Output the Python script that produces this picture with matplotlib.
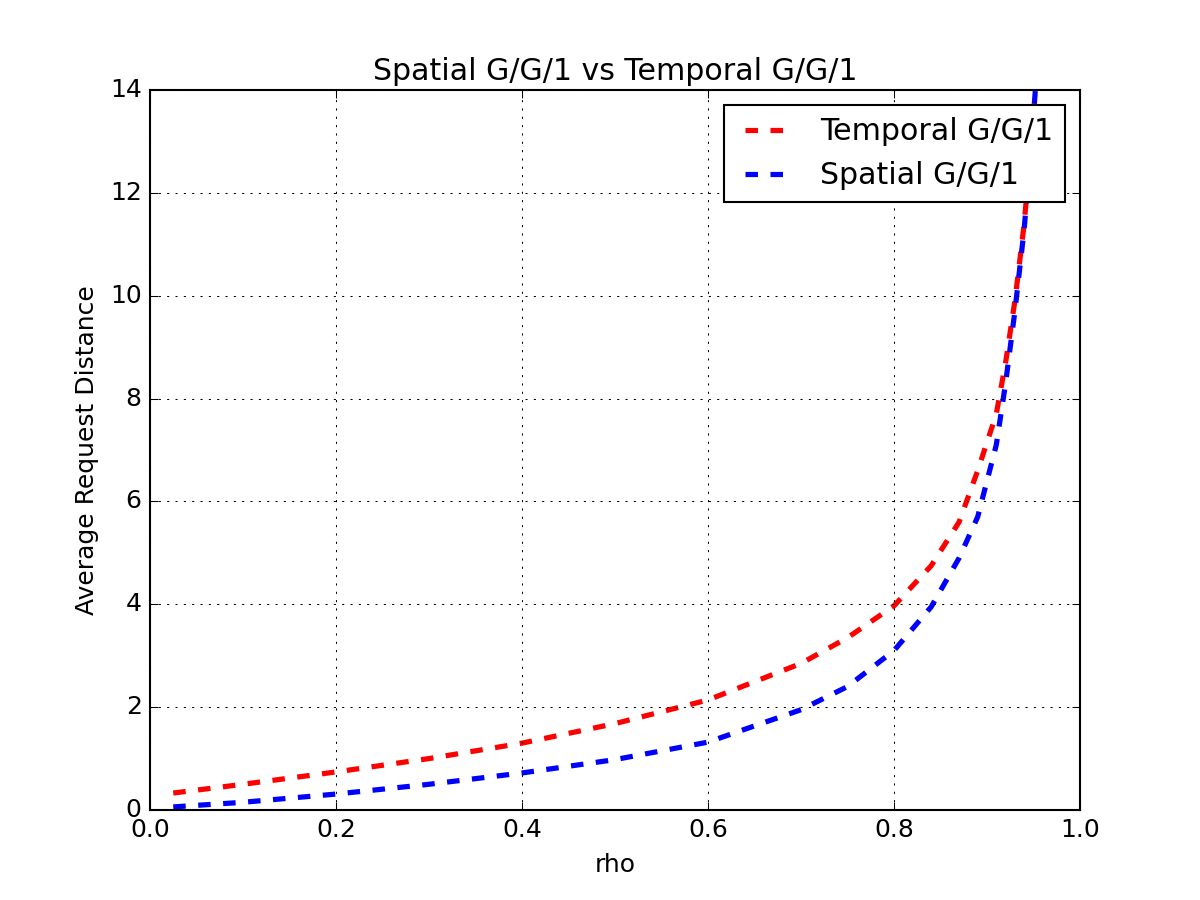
import matplotlib
matplotlib.use("Agg")
import matplotlib.pyplot as plt

# values
rho = [0.025, 0.1, 0.2, 0.3, 0.4, 0.5, 0.6, 0.7, 0.75, 0.8, 0.84, 0.87, 0.89,
       0.91, 0.92, 0.93, 0.94, 0.95, 0.96]
temporal = [0.33, 0.5, 0.74, 1.0, 1.3, 1.68, 2.14, 2.85, 3.35, 3.97, 4.75, 5.6,
            6.6, 7.7, 8.7, 9.9, 11.4, 13.5, 16.0]
spatial = [0.06, 0.15, 0.31, 0.5, 0.72, 0.98, 1.32, 1.95, 2.4, 3.1, 3.95, 4.9,
           5.7, 7.1, 8.3, 9.7, 11.3, 13.5, 16.0]

plt.style.use("classic")
fig = plt.figure(figsize=(8, 6), dpi=150)
ax = fig.add_subplot(111)

ax.plot(rho, temporal, "r--", linewidth=2.5, label="Temporal G/G/1")
ax.plot(rho, spatial, "b--", linewidth=2.5, label="Spatial G/G/1")

ax.set_xlim(0.0, 1.0)
ax.set_ylim(0, 14)
ax.set_xlabel("rho")
ax.set_ylabel("Average Request Distance")
ax.set_title("Spatial G/G/1 vs Temporal G/G/1")
ax.grid(True)
ax.legend(loc="upper right")

fig.savefig("out.png", dpi=150)
